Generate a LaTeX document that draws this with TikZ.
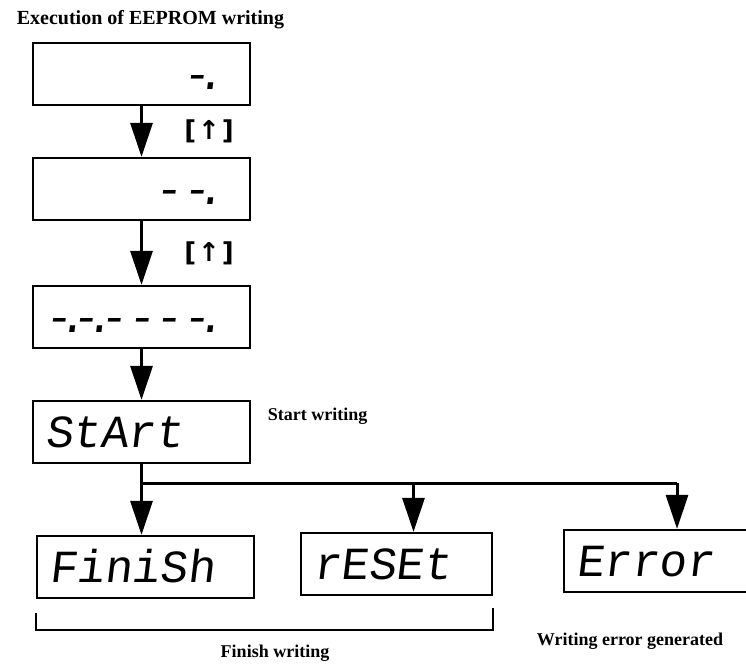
\documentclass[tikz,border=0pt]{standalone}
\usepackage{fontspec}
\setmainfont{Liberation Serif}
\newfontfamily\segfont[FakeSlant=0.12]{Liberation Mono}
\newfontfamily\keyfont{DejaVu Sans}
\usetikzlibrary{arrows.meta}

% display characters: one bar segment, and the decimal point that takes no cell
\newcommand{\segbar}{-\kern0pt}
\newcommand{\segdot}{\makebox[0pt]{.}}

\tikzset{
  lcd/.style={draw, line width=2.2pt, minimum width=217pt, minimum height=62pt,
    text width=193pt, inner xsep=12pt, inner ysep=1pt, text height=30pt, text depth=0pt,
    align=left, font=\segfont\fontsize{46pt}{46pt}\selectfont},
  lcdr/.style={lcd, align=right, inner xsep=8pt, text width=201pt},
  note/.style={font=\bfseries\fontsize{18pt}{20pt}\selectfont},
  keylbl/.style={font=\keyfont\bfseries\fontsize{26pt}{27pt}\selectfont},
}

\begin{document}
\begin{tikzpicture}[x=1pt, y=1pt, node distance=115pt, >={Triangle[length=34pt,width=22pt]}, line width=3pt]
    \useasboundingbox (0,0) rectangle (746,-667);
    \clip (0,0) rectangle (746,-667);
    \node (title) [anchor=west, font=\bfseries\fontsize{20pt}{22pt}\selectfont] at (12,-20) {Execution of EEPROM writing};
    \node (d1) [lcdr] at (141.5,-74) {\segbar\segdot\kern32pt};
    \node (d2) [lcdr, below of=d1] {\segbar\segbar\segdot\kern32pt};
    \node (d3) [lcdr, below of=d2, yshift=-13pt] {\segbar\segdot\segbar\segdot\segbar\segbar\segbar\segbar\segdot\kern32pt};
    \node (d4) [lcd, below of=d3] {StArt};
    \node (startlbl) [note, anchor=west] at ([xshift=12pt,yshift=16pt]d4.east) {Start writing};
    \node (fin) [lcd, below of=d4, xshift=4pt, yshift=-20pt] {FiniSh};
    \node (reset) [lcd, right of=fin, xshift=136pt, yshift=3pt, minimum width=191pt, text width=167pt] {rESEt};
    \node (err) [lcd, right of=reset, xshift=165.5pt, yshift=3pt, minimum width=226pt, text width=202pt] {Error};
    \draw[->] (d1) -- node[keylbl, right=38pt]{[\hspace{2pt}↑\hspace{2pt}]} (d2);
    \draw[->] (d2) -- node[keylbl, right=38pt]{[\hspace{2pt}↑\hspace{2pt}]} (d3);
    \draw[->] (d3) -- (d4);
    % branch to the three results
    \coordinate (jn) at ([yshift=-19pt]d4.south);
    \path (jn -| reset.north) ++(17,0) coordinate (tap);
    \draw (d4) -- (jn) -- (jn -| err.north);
    \draw[->] (jn) -- (jn |- fin.north);
    \draw[->] (tap) -- (tap |- reset.north);
    \draw[->] (jn -| err.north) -- (err.north);
    \draw[line width=2.2pt] ([yshift=-14pt]fin.south west) -- ([yshift=-31pt]fin.south west) -| ([yshift=-12pt]reset.south east);
    \node (finlbl) [note] at (275,-653) {Finish writing};
    \node (errlbl) [note] at (630,-641) {Writing error generated};
\end{tikzpicture}
\end{document}
